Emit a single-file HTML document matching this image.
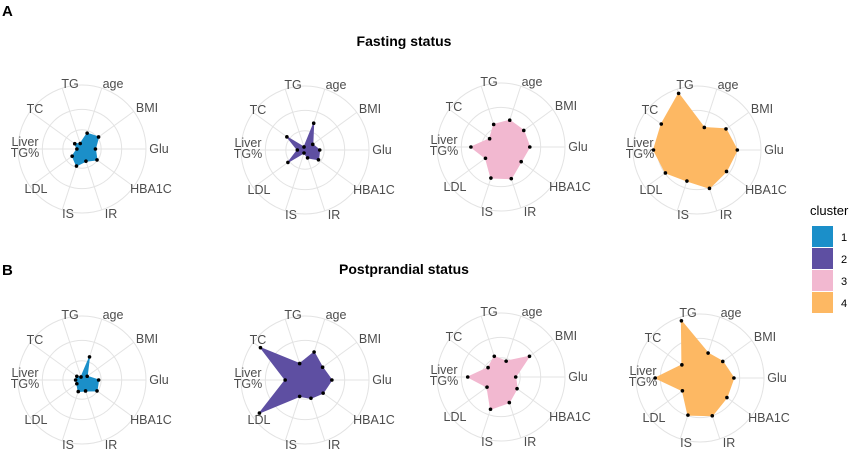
<!DOCTYPE html>
<html><head><meta charset="utf-8"><style>
body{margin:0;background:#fff;width:856px;height:450px;overflow:hidden;font-family:"Liberation Sans",Arial,sans-serif}
svg text{font-family:"Liberation Sans",Arial,sans-serif}
</style></head><body>
<svg id="chart" width="856" height="450" viewBox="0 0 856 450">
<text x="2" y="16" font-size="15" font-weight="bold" fill="#000">A</text>
<text x="404" y="46" font-size="14" font-weight="bold" text-anchor="middle" fill="#000">Fasting status</text>
<text x="2" y="275" font-size="15" font-weight="bold" fill="#000">B</text>
<text x="404" y="274" font-size="14" font-weight="bold" text-anchor="middle" fill="#000">Postprandial status</text>
<g id="legend">
<text x="810" y="215" font-size="13" fill="#000">cluster</text>
</g>
<g id="plots"></g>
</svg>
<script>
const axesLabels = ["TG","age","BMI","Glu","HBA1C","IR","IS","LDL","Liver TG%","TC"];
const clusters = ["1","2","3","4"];
const clusterColors = ["#1b8fc9","#5e4fa2","#f2b8d0","#fdb863"];
const fastingC1 = [0.09,0.26,0.32,0.21,0.29,0.20,0.28,0.19,0.08,0.14];
const fastingC2 = [0.05,0.44,0.15,0.23,0.26,0.13,0.05,0.33,0.12,0.35];
const fastingC3 = [0.37,0.44,0.44,0.45,0.39,0.52,0.51,0.30,0.47,0.22];
const fastingC4 = [0.93,0.37,0.56,0.63,0.57,0.63,0.51,0.61,0.68,0.69];
const postC1 = [0.05,0.38,0.10,0.26,0.29,0.18,0.19,0.10,0.10,0.10];
const postC2 = [0.27,0.46,0.34,0.42,0.35,0.30,0.27,0.88,0.31,0.86];
const postC3 = [0.34,0.26,0.55,0.23,0.31,0.42,0.53,0.27,0.52,0.25];
const postC4 = [0.94,0.41,0.44,0.53,0.52,0.62,0.61,0.34,0.70,0.35];

const NS="http://www.w3.org/2000/svg";
const R=64;
const labelOff=[[-12,-65],[31,-65],[65,-41],[77,0],[69,40],[29,65],[-14,65],[-46,40],[-57,0],[-47,-40]];
function ang(i){return (-18+36*i)*Math.PI/180;}
function px(cx,v,i){return cx+v*R*Math.sin(ang(i));}
function py(cy,v,i){return cy-v*R*Math.cos(ang(i));}
const plots=document.getElementById('plots');
function mk(tag,attrs,parent){const e=document.createElementNS(NS,tag);for(const k in attrs)e.setAttribute(k,attrs[k]);parent.appendChild(e);return e;}

function radar(cx,cy,vals,ci,name){
  const g=mk('g',{},plots);
  
  
  [0.3,0.62,1].forEach(f=>{
    const c=mk('circle',{cx:cx,cy:cy,r:f*R,fill:'none',stroke:'#e3e3e3','stroke-width':1},g);
    
    
  });
  axesLabels.forEach((lab,i)=>{
    const l=mk('line',{x1:cx,y1:cy,x2:px(cx,1,i),y2:py(cy,1,i),stroke:'#e3e3e3','stroke-width':1},g);
    
    
    const t=mk('text',{x:cx+labelOff[i][0],y:cy+labelOff[i][1]+4,'font-size':12.5,fill:'#4d4d4d','text-anchor':'middle'},g);
    
    
    if(lab==="Liver TG%"){
      t.setAttribute('y',cy-3);
      const a=mk('tspan',{x:cx+labelOff[i][0]},t);a.textContent="Liver";
      const b=mk('tspan',{x:cx+labelOff[i][0],dy:11},t);b.textContent="TG%";
    } else t.textContent=lab;
  });
  const pts=vals.map((v,i)=>px(cx,v,i).toFixed(1)+","+py(cy,v,i).toFixed(1)).join(" ");
  const p=mk('polygon',{points:pts,fill:clusterColors[ci],stroke:clusterColors[ci],'stroke-width':1},g);
  
  
  vals.forEach((v,i)=>{
    const d=mk('circle',{cx:px(cx,v,i),cy:py(cy,v,i),r:1.8,fill:'#000'},g);
    
    
  });
}
radar(82,149,fastingC1,0,'fasting-cluster-1-radar');
radar(305,150,fastingC2,1,'fasting-cluster-2-radar');
radar(501,147,fastingC3,2,'fasting-cluster-3-radar');
radar(697,150,fastingC4,3,'fasting-cluster-4-radar');
radar(82,380,postC1,0,'postprandial-cluster-1-radar');
radar(305,380,postC2,1,'postprandial-cluster-2-radar');
radar(501,377,postC3,2,'postprandial-cluster-3-radar');
radar(700,378,postC4,3,'postprandial-cluster-4-radar');

const lg=document.getElementById('legend');
clusters.forEach((c,i)=>{
  const y=226+i*22;
  const r=mk('rect',{x:812,y:y,width:21,height:21,fill:clusterColors[i]},lg);
  
  
  const t=mk('text',{x:841,y:y+15,'font-size':11,fill:'#000'},lg);
  
  
  t.textContent=c;
});
</script>
</body></html>
